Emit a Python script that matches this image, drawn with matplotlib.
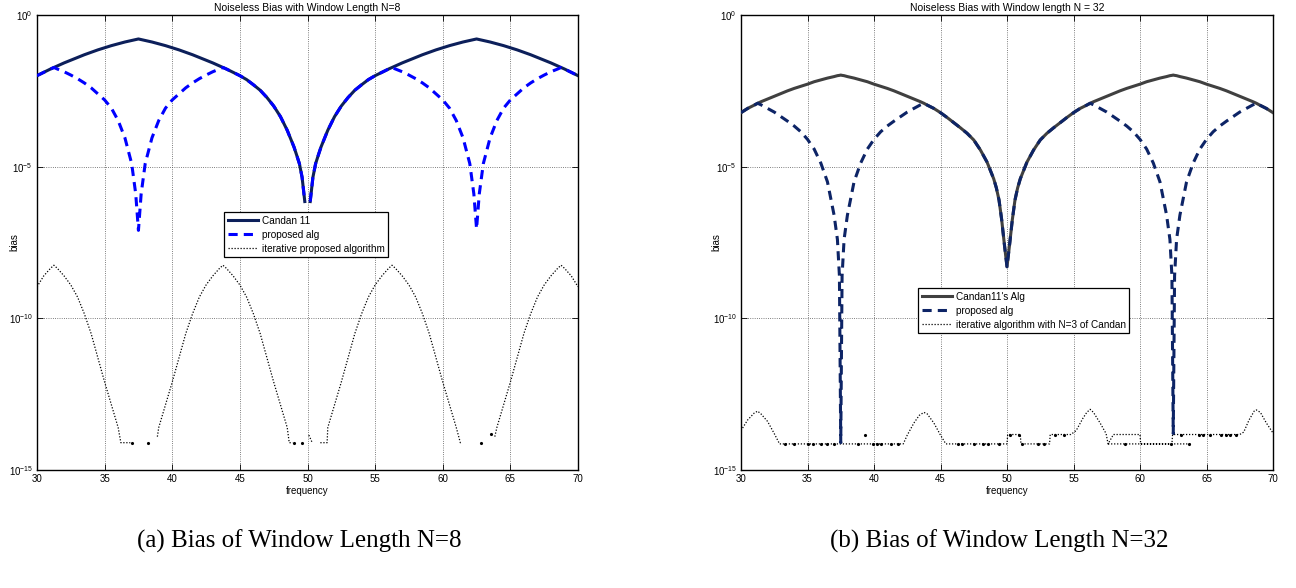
import numpy as np
import matplotlib
matplotlib.use("Agg")
import matplotlib.pyplot as plt
from matplotlib.ticker import FixedLocator, LogFormatterMathtext, NullLocator

plt.rcParams["font.family"] = ["Liberation Sans", "DejaVu Sans"]
plt.rcParams["mathtext.fontset"] = "custom"
plt.rcParams["mathtext.rm"] = "Liberation Sans"
plt.rcParams["mathtext.it"] = "Liberation Sans:italic"

# ---------------- panel (a): window length N = 8 (log10 of bias) ----------------
freq_a = [30, 30.5, 31, 31.25, 31.5, 32, 32.5, 33, 33.5, 34, 34.5, 35, 35.5, 36, 36.5, 37,
          37.3, 37.5, 37.7, 38, 38.5, 39, 39.5, 40, 40.5, 41, 41.5, 42, 42.5, 43, 43.5, 43.75,
          44, 44.5, 45, 45.5, 46, 46.5, 47, 47.5, 48, 48.5, 49, 49.2, 49.4, 49.6, 49.8, 50,
          50.2, 50.4, 50.6, 50.8, 51, 51.5, 52, 52.5, 53, 53.5, 54, 54.5, 55, 55.5, 56, 56.25,
          56.5, 57, 57.5, 58, 58.5, 59, 59.5, 60, 60.5, 61, 61.5, 62, 62.3, 62.5, 62.7,
          63, 63.5, 64, 64.5, 65, 65.5, 66, 66.5, 67, 67.5, 68, 68.5, 68.75, 69, 69.5, 70]

candan_a = [-2.0, -1.89, -1.78, -1.73, -1.68, -1.58, -1.49, -1.4, -1.31, -1.23, -1.15, -1.08,
            -1.01, -0.95, -0.89, -0.84, -0.81, -0.79, -0.81, -0.84, -0.89, -0.95, -1.01, -1.08,
            -1.15, -1.23, -1.31, -1.4, -1.49, -1.58, -1.68, -1.73, -1.78, -1.89, -2.0, -2.13,
            -2.3, -2.48, -2.72, -3.0, -3.35, -3.8, -4.35, -4.62, -4.9, -5.35, -6.15, np.nan,
            -6.15, -5.35, -4.9, -4.62, -4.35, -3.8, -3.35, -3.0, -2.72, -2.48, -2.3, -2.13,
            -2.0, -1.89, -1.78, -1.73, -1.68, -1.58, -1.49, -1.4, -1.31, -1.23, -1.15, -1.08,
            -1.01, -0.95, -0.89, -0.84, -0.81, -0.79, -0.81, -0.84, -0.89, -0.95, -1.01, -1.08,
            -1.15, -1.23, -1.31, -1.4, -1.49, -1.58, -1.68, -1.73, -1.78, -1.89, -2.0]

proposed_a = [-2.0, -1.89, -1.78, -1.73, -1.78, -1.87, -1.98, -2.1, -2.24, -2.4, -2.6, -2.8,
              -3.07, -3.48, -4.05, -4.9, -5.9, -7.1, -5.9, -4.9, -4.05, -3.48, -3.07, -2.8,
              -2.6, -2.4, -2.24, -2.1, -1.98, -1.87, -1.78, -1.73, -1.78, -1.89, -2.0, -2.13,
              -2.3, -2.48, -2.72, -3.0, -3.35, -3.8, -4.35, -4.62, -4.9, -5.35, -6.15, np.nan,
              -6.15, -5.35, -4.9, -4.62, -4.35, -3.8, -3.35, -3.0, -2.72, -2.48, -2.3, -2.13,
              -2.0, -1.89, -1.78, -1.73, -1.78, -1.87, -1.98, -2.1, -2.24, -2.4, -2.6, -2.8,
              -3.07, -3.48, -4.05, -4.9, -5.9, -7.05, -5.9, -4.9, -4.05, -3.48, -3.07, -2.8,
              -2.6, -2.4, -2.24, -2.1, -1.98, -1.87, -1.78, -1.73, -1.78, -1.89, -2.0]

iter_a_freq = [30, 30.5, 31, 31.25, 31.5, 32, 32.5, 33, 33.5, 34, 34.5, 35, 35.5, 36, 36.2,
               36.9, 37.0, 38.9, 39, 39.5, 40, 40.5, 41, 41.5, 42, 42.5, 43, 43.5, 43.75, 44,
               44.5, 45, 45.5, 46, 46.5, 47, 47.5, 48, 48.5, 48.65, 48.9, 49.0, 50.1, 50.35,
               50.4, 50.95, 51.45, 51.5, 52, 52.5, 53, 53.5, 54, 54.5, 55, 55.5, 56, 56.25,
               56.5, 57, 57.5, 58, 58.5, 59, 59.5, 60, 60.5, 61, 61.3, 61.45, 61.5, 63.85, 64,
               64.5, 65, 65.5, 66, 66.5, 67, 67.5, 68, 68.5, 68.75, 69, 69.5, 70]
iter_a = [-8.96, -8.6, -8.35, -8.25, -8.35, -8.6, -8.9, -9.3, -9.85, -10.5, -11.3, -12.1,
          -12.85, -13.6, -14.1, -14.1, np.nan, -13.9, -13.6, -12.85, -12.1, -11.3, -10.5,
          -9.85, -9.3, -8.9, -8.6, -8.35, -8.25, -8.35, -8.6, -8.9, -9.3, -9.85, -10.5, -11.3,
          -12.1, -12.85, -13.6, -14.1, -14.1, np.nan, -13.85, -14.1, np.nan, -14.1, -14.1,
          -13.6, -12.85, -12.1, -11.3, -10.5, -9.85, -9.3, -8.9, -8.6, -8.35, -8.25, -8.35,
          -8.6, -8.9, -9.3, -9.85, -10.5, -11.3, -12.1, -12.85, -13.6, -14.1, -14.1, np.nan,
          -13.9, -13.6, -12.85, -12.1, -11.3, -10.5, -9.85, -9.3, -8.9, -8.6, -8.35, -8.25,
          -8.35, -8.6, -8.96]

# isolated samples drawn as dots near the numerical floor
dots_a_freq = [37.0, 38.2, 49.0, 49.6, 62.8, 63.6]
dots_a = [-14.1, -14.1, -14.1, -14.1, -14.1, -13.82]

# ---------------- panel (b): window length N = 32 (log10 of bias) ----------------
freq_b = [30, 30.5, 31, 31.25, 31.5, 32, 32.5, 33, 33.5, 34, 34.5, 35, 35.5, 36, 36.5, 37,
          37.25, 37.4, 37.5, 37.6, 37.75, 38, 38.5, 39, 39.5, 40, 40.5, 41, 41.5, 42, 42.5,
          43, 43.5, 43.75, 44, 44.5, 45, 45.5, 46, 46.5, 47, 47.5, 48, 48.5, 49, 49.2, 49.4,
          49.6, 49.8, 50, 50.2, 50.4, 50.6, 50.8, 51, 51.5, 52, 52.5, 53, 53.5, 54, 54.5, 55,
          55.5, 56, 56.25, 56.5, 57, 57.5, 58, 58.5, 59, 59.5, 60, 60.5, 61, 61.5, 62, 62.25,
          62.4, 62.5, 62.6, 62.75, 63, 63.5, 64, 64.5, 65, 65.5, 66, 66.5, 67, 67.5, 68, 68.5,
          68.75, 69, 69.5, 70]

candan_b = [-3.22, -3.08, -2.97, -2.91, -2.86, -2.77, -2.68, -2.59, -2.5, -2.42, -2.35, -2.28,
            -2.2, -2.14, -2.08, -2.03, -2.0, -1.99, -1.98, -1.99, -2.0, -2.03, -2.08, -2.14,
            -2.2, -2.28, -2.35, -2.42, -2.5, -2.59, -2.68, -2.77, -2.86, -2.91, -2.97, -3.08,
            -3.22, -3.38, -3.55, -3.72, -3.9, -4.12, -4.45, -4.85, -5.4, -5.7, -6.1, -6.75,
            -7.55, -8.3, -7.55, -6.75, -6.1, -5.7, -5.4, -4.85, -4.45, -4.12, -3.9, -3.72,
            -3.55, -3.38, -3.22, -3.08, -2.97, -2.91, -2.86, -2.77, -2.68, -2.59, -2.5, -2.42,
            -2.35, -2.28, -2.2, -2.14, -2.08, -2.03, -2.0, -1.99, -1.98, -1.99, -2.0, -2.03,
            -2.08, -2.14, -2.2, -2.28, -2.35, -2.42, -2.5, -2.59, -2.68, -2.77, -2.86, -2.91,
            -2.97, -3.08, -3.22]

proposed_b = [-3.22, -3.08, -2.97, -2.91, -2.96, -3.08, -3.2, -3.35, -3.5, -3.66, -3.85, -4.1,
              -4.42, -4.88, -5.5, -6.6, -7.4, -8.6, -14.1, -8.6, -7.4, -6.6, -5.5, -4.88,
              -4.42, -4.1, -3.85, -3.66, -3.5, -3.35, -3.2, -3.08, -2.96, -2.91, -2.97, -3.08,
              -3.22, -3.38, -3.55, -3.72, -3.9, -4.12, -4.45, -4.85, -5.4, -5.7, -6.1, -6.75,
              -7.55, -8.3, -7.55, -6.75, -6.1, -5.7, -5.4, -4.85, -4.45, -4.12, -3.9, -3.72,
              -3.55, -3.38, -3.22, -3.08, -2.97, -2.91, -2.96, -3.08, -3.2, -3.35, -3.5, -3.66,
              -3.85, -4.1, -4.42, -4.88, -5.5, -6.6, -7.4, -8.6, -13.8, -8.6, -7.4, -6.6,
              -5.5, -4.88, -4.42, -4.1, -3.85, -3.66, -3.5, -3.35, -3.2, -3.08, -2.96, -2.91,
              -2.97, -3.08, -3.22]

iter_b_freq = [30, 30.5, 31, 31.25, 31.5, 32, 32.5, 32.9, 42.2, 42.5, 43, 43.4, 43.75, 44,
               44.5, 45, 45.4, 50.0, 50.05, 51.0, 51.05, 53.2, 53.25, 54.8, 55.2, 55.7, 56.0,
               56.25, 56.5, 57.0, 57.45, 57.6, 58.0, 60.0, 60.05, 62.4, 62.45, 67.5, 67.8,
               68.2, 68.6, 68.75, 69.05, 69.5, 70, np.nan, 57.6, 63.8]
iter_b = [-13.7, -13.35, -13.12, -13.06, -13.15, -13.4, -13.8, -14.14, -14.14, -13.85, -13.45,
          -13.2, -13.1, -13.15, -13.45, -13.85, -14.14, -14.14, -13.83, -13.83, -14.14, -14.14,
          -13.83, -13.83, -13.7, -13.3, -13.1, -13.0, -13.1, -13.45, -13.8, -14.14, -13.83,
          -13.83, -14.14, -14.14, -13.83, -13.83, -13.75, -13.35, -13.05, -13.02, -13.1,
          -13.45, -13.78, np.nan, -14.14, -14.14]

dots_b_freq = [33.3, 34.0, 35.0, 35.4, 36.0, 36.5, 37.0, 38.8, 39.9, 40.2, 40.5, 41.3, 41.8,
               46.3, 46.6, 47.5, 48.2, 48.6, 49.4, 51.1, 52.3, 52.8, 58.9, 62.3, 63.7,
               39.3, 50.2, 50.9, 53.6, 54.3, 63.1, 64.4, 64.7, 65.3, 66.1, 66.5, 66.8, 67.2]
dots_b = [-14.14] * 25 + [-13.83] * 13

panels = [
    dict(freq=freq_a, solid=candan_a, dashed=proposed_a, it_f=iter_a_freq, it=iter_a,
         dot_f=dots_a_freq, dot=dots_a, solid_c="#0c1f5a", dash_c="#0000ff",
         labels=["Candan 11", "proposed alg", "iterative proposed algorithm"],
         title="Noiseless Bias with Window Length N=8",
         caption="(a) Bias of Window Length N=8",
         rect=[37 / 1296, 118 / 588, 541 / 1296, 455 / 588], leg=(0.346, 0.567),
         ylab_x=-0.033),
    dict(freq=freq_b, solid=candan_b, dashed=proposed_b, it_f=iter_b_freq, it=iter_b,
         dot_f=dots_b_freq, dot=dots_b, solid_c="#404040", dash_c="#0d2466",
         labels=["Candan11's Alg", "proposed alg", "iterative algorithm with N=3 of Candan"],
         title="Noiseless Bias with Window length N = 32",
         caption="(b) Bias of Window Length N=32",
         rect=[741 / 1296, 118 / 588, 532 / 1296, 455 / 588], leg=(0.333, 0.40),
         ylab_x=-0.036),
]

fig = plt.figure(figsize=(12.96, 5.88), dpi=100)

for p in panels:
    ax = fig.add_axes(p["rect"])
    f = np.array(p["freq"])
    ax.plot(f, 10.0 ** np.array(p["solid"]), color=p["solid_c"], lw=2.2,
            label=p["labels"][0], zorder=3)
    ax.plot(f, 10.0 ** np.array(p["dashed"]), color=p["dash_c"], lw=2.2,
            dashes=(3.0, 2.0), label=p["labels"][1], zorder=4)
    ax.plot(np.array(p["it_f"]), 10.0 ** np.array(p["it"]), color="k", lw=0.9,
            linestyle=(0, (1, 1.4)), label=p["labels"][2], zorder=2)
    ax.plot(p["dot_f"], 10.0 ** np.array(p["dot"]), "k.", ms=2.5, zorder=2)

    ax.set_yscale("log")
    ax.set_xlim(30, 70)
    ax.set_ylim(1e-15, 1e0)
    ax.xaxis.set_major_locator(FixedLocator(np.arange(30, 71, 5)))
    ax.yaxis.set_major_locator(FixedLocator([1e-15, 1e-10, 1e-5, 1e0]))
    ax.yaxis.set_major_formatter(LogFormatterMathtext())
    ax.yaxis.set_minor_locator(NullLocator())
    ax.tick_params(direction="in", length=4, width=0.6, labelsize=7, top=True, right=True, pad=3)
    ax.grid(True, linestyle=":", color="#555555", lw=0.6)
    for s in ax.spines.values():
        s.set_linewidth(1.0)
    ax.set_xlabel("frequency", fontsize=7, labelpad=1)
    ax.set_ylabel("bias", fontsize=7)
    ax.yaxis.set_label_coords(p["ylab_x"], 0.5)
    ax.set_title(p["title"], fontsize=7.5, pad=3)

    leg = ax.legend(loc="upper left", bbox_to_anchor=p["leg"], borderaxespad=0,
                    fontsize=7.2, frameon=True, fancybox=False, framealpha=1,
                    edgecolor="k", handlelength=3.0, handletextpad=0.4,
                    labelspacing=0.4, borderpad=0.35)
    leg.get_frame().set_linewidth(0.9)

    cx = p["rect"][0] + p["rect"][2] / 2 - 0.006
    fig.text(cx, 0.08, p["caption"], ha="center", va="center", fontsize=18,
             family=["Liberation Serif", "DejaVu Serif"])

fig.savefig("out.png", dpi=100)
